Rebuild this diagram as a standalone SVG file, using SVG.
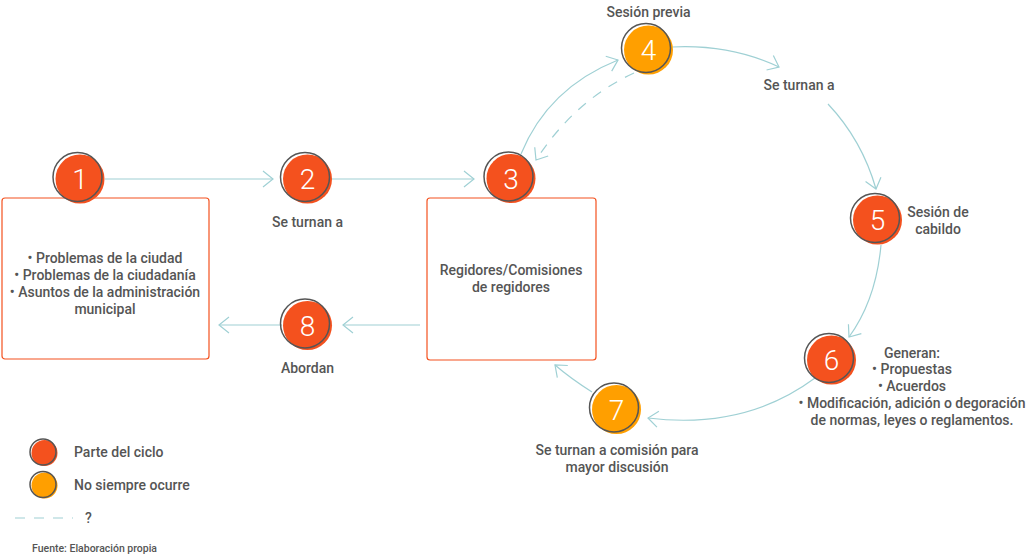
<svg xmlns="http://www.w3.org/2000/svg" width="1028" height="554" viewBox="0 0 1028 554">
<style>
.t{font-family:Roboto,"Liberation Sans",sans-serif;font-size:14px;font-weight:500;fill:#555;text-anchor:middle}
.tl{text-anchor:start}
.n{font-family:Roboto,"Liberation Sans",sans-serif;font-size:28px;font-weight:300;fill:#fff;text-anchor:middle}
.red{fill:#f4511e}
.org{fill:#ff9f00}
.ring{fill:none;stroke:#555;stroke-width:1.5}
.box{fill:#fff;stroke:#f4511e;stroke-width:1.2}
.c{fill:none;stroke:#9fd0d4;stroke-width:1.2}
.d{stroke-dasharray:10 9}
</style>
<defs>
<marker id="ah" viewBox="0 0 12 18" refX="11" refY="9" markerWidth="12" markerHeight="18" markerUnits="userSpaceOnUse" orient="auto">
<path d="M1,1 L11,9 L1,17" fill="none" stroke="#9fd0d4" stroke-width="1.2"/>
</marker>
</defs>
<rect width="1028" height="554" fill="#fff"/>
<g id="connectors">
<path class="c" d="M105,179 L273,179" marker-end="url(#ah)"/>
<path class="c" d="M332,179 L474,179" marker-end="url(#ah)"/>
<path class="c" d="M521,154 Q548,88 618,60" marker-end="url(#ah)"/>
<path class="c d" d="M634,73 Q575,100 536,160" marker-end="url(#ah)"/>
<path class="c" d="M672,47 Q730,44 779,67" marker-end="url(#ah)"/>
<path class="c" d="M828,104 Q862,140 876,189" marker-end="url(#ah)"/>
<path class="c" d="M881,245 Q876,300 849,337" marker-end="url(#ah)"/>
<path class="c" d="M815,378 Q745,430 648,418" marker-end="url(#ah)"/>
<path class="c" d="M592,392 Q570,378 555,365" marker-end="url(#ah)"/>
<path class="c" d="M420,325 L343,325" marker-end="url(#ah)"/>
<path class="c" d="M282,325 L219,325" marker-end="url(#ah)"/>
</g>
<g id="box1">
<rect class="box" x="2" y="198" width="207" height="161" rx="3"/>
<text class="t" x="105" y="263">• Problemas de la ciudad</text>
<text class="t" x="105" y="280">• Problemas de la ciudadanía</text>
<text class="t" x="105" y="297">• Asuntos de la administración</text>
<text class="t" x="105" y="314">municipal</text>
</g>
<g id="box3">
<rect class="box" x="427" y="198" width="169" height="162" rx="3"/>
<text class="t" x="511" y="275">Regidores/Comisiones</text>
<text class="t" x="511" y="292">de regidores</text>
</g>
<g id="node1" transform="translate(80,179)">
<circle class="red" r="24.5"/><circle class="ring" cx="-2.5" cy="-2" r="24.5"/>
<text class="n" x="0" y="10">1</text>
</g>
<g id="node2" transform="translate(307.5,179)">
<circle class="red" r="24.5"/><circle class="ring" cx="-2.5" cy="-2" r="24.5"/>
<text class="n" x="0" y="10">2</text>
<text class="t" x="0" y="48">Se turnan a</text>
</g>
<g id="node3" transform="translate(511,178.5)">
<circle class="red" r="24.5"/><circle class="ring" cx="-2.5" cy="-2" r="24.5"/>
<text class="n" x="0" y="10">3</text>
</g>
<g id="node4" transform="translate(648.5,50)">
<circle class="org" r="24.5"/><circle class="ring" cx="-2.5" cy="-2" r="24.5"/>
<text class="n" x="0" y="10">4</text>
<text class="t" x="0" y="-33.5">Sesión previa</text>
</g>
<text class="t" x="799" y="90">Se turnan a</text>
<g id="node5" transform="translate(877.5,220)">
<circle class="red" r="24.5"/><circle class="ring" cx="-2.5" cy="-2" r="24.5"/>
<text class="n" x="0" y="10">5</text>
<text class="t" x="60.5" y="-3">Sesión de</text>
<text class="t" x="60.5" y="14">cabildo</text>
</g>
<g id="node6" transform="translate(831.5,360)">
<circle class="red" r="24.5"/><circle class="ring" cx="-2.5" cy="-2" r="24.5"/>
<text class="n" x="0" y="10">6</text>
</g>
<g id="label6">
<text class="t" x="912" y="358">Generan:</text>
<text class="t" x="912" y="374">• Propuestas</text>
<text class="t" x="912" y="391">• Acuerdos</text>
<text class="t" x="912" y="408">• Modificación, adición o degoración</text>
<text class="t" x="912" y="425">de normas, leyes o reglamentos.</text>
</g>
<g id="node7" transform="translate(616.5,409.5)">
<circle class="org" r="24.5"/><circle class="ring" cx="-2.5" cy="-2" r="24.5"/>
<text class="n" x="0" y="10">7</text>
<text class="t" x="0.5" y="45.5">Se turnan a comisión para</text>
<text class="t" x="0.5" y="62.5">mayor discusión</text>
</g>
<g id="node8" transform="translate(307.5,325.5)">
<circle class="red" r="24.5"/><circle class="ring" cx="-2.5" cy="-2" r="24.5"/>
<text class="n" x="0" y="10">8</text>
<text class="t" x="0" y="47.5">Abordan</text>
</g>
<g id="legend">
<circle class="red" cx="44.5" cy="453" r="13"/><circle class="ring" cx="43" cy="452" r="13"/>
<text class="t tl" x="74" y="457">Parte del ciclo</text>
<circle class="org" cx="44.5" cy="485.5" r="13"/><circle class="ring" cx="43" cy="484.5" r="13"/>
<text class="t tl" x="74" y="490">No siempre ocurre</text>
<path class="c d" d="M15,518 L73,518" stroke-dasharray="10 12"/>
<text class="t tl" x="85" y="523">?</text>
<text class="t tl" x="32" y="552" style="font-size:10.5px;font-weight:500">Fuente: Elaboración propia</text>
</g>
</svg>
